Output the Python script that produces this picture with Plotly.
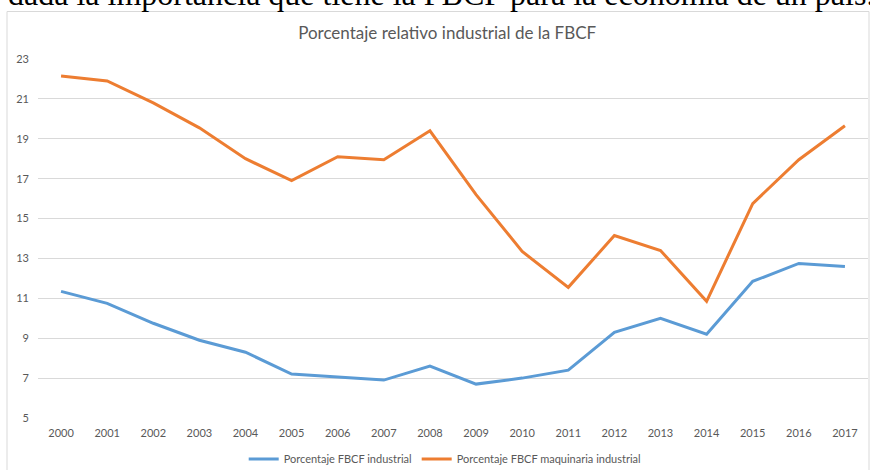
import plotly.graph_objects as go

years = [str(y) for y in range(2000, 2018)]
fbcf_industrial = [11.35, 10.75, 9.75, 8.9, 8.3, 7.2, 7.05, 6.9, 7.6, 6.7, 7.0, 7.4, 9.3, 10.0, 9.2, 11.85, 12.75, 12.6]
fbcf_maquinaria = [22.15, 21.9, 20.8, 19.55, 18.0, 16.9, 18.1, 17.95, 19.4, 16.2, 13.35, 11.55, 14.15, 13.4, 10.85, 15.75, 17.95, 19.65]
y_ticks = [5, 7, 9, 11, 13, 15, 17, 19, 21, 23]

title_text = "Porcentaje relativo industrial de la FBCF"
top_text = "dada la importancia que tiene la FBCF para la economía de un país."
names = ["Porcentaje FBCF industrial", "Porcentaje FBCF maquinaria industrial"]
colors = ["#5B9BD5", "#ED7D31"]

FONT = "Lato, 'Open Sans', sans-serif"
GRAY = "#595959"

fig = go.Figure()
for vals, name, col in zip([fbcf_industrial, fbcf_maquinaria], names, colors):
    fig.add_trace(go.Scatter(x=years, y=vals, mode="lines", name=name,
                             line=dict(color=col, width=3)))

fig.update_layout(
    width=870, height=470,
    margin=dict(l=38, r=2, t=59, b=52, autoexpand=False),
    paper_bgcolor="white", plot_bgcolor="white",
    font=dict(family=FONT, color=GRAY, size=11),
    title=dict(text=title_text, x=0.514, xanchor="center", y=1 - 33/470, yanchor="middle",
               font=dict(family=FONT, size=17, color=GRAY)),
    showlegend=True,
    legend=dict(orientation="h", x=0.49, xanchor="center", y=-0.114, yanchor="middle",
                font=dict(family=FONT, size=11, color=GRAY), itemwidth=30,
                traceorder="normal", tracegroupgap=0),
    xaxis=dict(type="category", range=[-0.5, 17.5], showgrid=False, showline=False,
               ticks="", tickfont=dict(size=11, color=GRAY), ticklabelstandoff=7,
               automargin=False, fixedrange=True),
    yaxis=dict(range=[5, 23], tickvals=y_ticks, showgrid=True, gridcolor="#D9D9D9",
               gridwidth=1, zeroline=False, showline=False, ticks="",
               tickfont=dict(size=11, color=GRAY), ticklabelstandoff=8, automargin=False),
)

# outer chart frame
fig.add_shape(type="rect", xref="paper", yref="paper",
              x0=(7 - 38) / 830, x1=(869 - 38) / 830,
              y0=(418 - 475) / 359, y1=(418 - 11.5) / 359,
              line=dict(color="#D9D9D9", width=1), fillcolor="rgba(0,0,0,0)", layer="below")

# cropped document text at top
fig.add_annotation(text=top_text, xref="paper", yref="paper",
                   x=(6 - 38) / 830, xanchor="left",
                   y=(418 - 14) / 359, yanchor="bottom", showarrow=False,
                   font=dict(family="'Liberation Serif', 'DejaVu Serif', serif", size=32, color="black"))

fig.write_html("out.html", config={"displayModeBar": False},
               post_script="document.body.style.margin='0';document.body.style.overflow='hidden';")
